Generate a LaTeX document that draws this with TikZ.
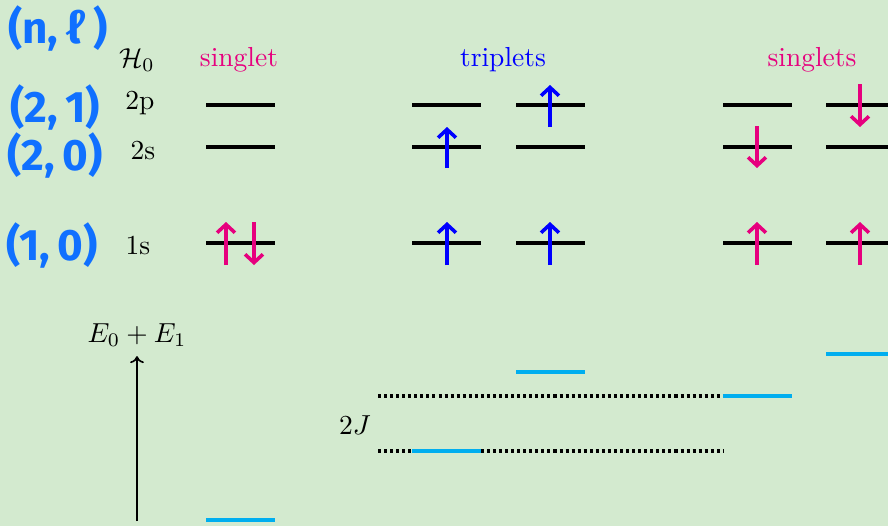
\documentclass[tikz,border=0pt]{standalone}
\usepackage{fontspec}
\newfontfamily\handfont{Fira Sans}
\usepackage{xcolor}
\definecolor{PaperGreen}{HTML}{D3EACF}
\definecolor{SpinPink}{HTML}{E6007E}
\definecolor{SpinBlue}{HTML}{0000FF}
\definecolor{HandBlue}{HTML}{1070FF}
\definecolor{LevelCyan}{HTML}{00AEEF}
\usepackage{tikz}
\usetikzlibrary{arrows.meta,positioning,calc}

\begin{document}
\begin{tikzpicture}[x=0.3636pt,y=-0.3636pt,
  level/.style={line width=1.8pt},
  shifted/.style={draw=LevelCyan,line width=1.8pt},
  spin/.style={line width=1.3pt,-{Straight Barb[length=3pt,width=6.5pt]}},
  guide/.style={line width=1.1pt,dash pattern=on 1.1pt off 1.1pt},
  hand/.style={text=HandBlue,font=\handfont\bfseries\fontsize{16}{19}\selectfont}]
\clip (0,0) rectangle (888,526);
\fill[PaperGreen] (0,0) rectangle (888,526);
% quantum numbers, written by hand
\node[hand] (nl) at (58,28) {(n,\,ℓ\,)};
\node[hand] (q21) at (55,107) {(2,\,1)};
\node[hand] (q20) at (55,155) {(2,\,0)};
\node[hand] (q10) at (52,245) {(1,\,0)};
% headings
\node (ham) at (137,60) {$\mathcal{H}_0$};
\node[text=SpinPink] (sing) at (239,60) {singlet};
\node[text=SpinBlue] (trip) at (503,60) {triplets};
\node[text=SpinPink] (sings) at (812,60) {singlets};
\node (lab2p) at (140,103) {2p};
\node (lab2s) at (143,150) {2s};
\node (lab1s) at (138,245) {1s};
% orbital levels
\foreach \x in {206,412,516,723,826}
  \foreach \y in {105,147,243}
    \draw[level] (\x,\y) -- ++(69,0);
% spins
\draw[spin,SpinPink] (226,265) -- (226,222);
\draw[spin,SpinPink] (254,222) -- (254,265);
\draw[spin,SpinBlue] (447,168) -- (447,127);
\draw[spin,SpinBlue] (447,265) -- (447,222);
\draw[spin,SpinBlue] (550,127) -- (550,85);
\draw[spin,SpinBlue] (550,265) -- (550,222);
\draw[spin,SpinPink] (757,126) -- (757,168);
\draw[spin,SpinPink] (757,265) -- (757,222);
\draw[spin,SpinPink] (860,84) -- (860,127);
\draw[spin,SpinPink] (860,265) -- (860,222);
% energy axis
\node (esum) at (137,335) {$E_0+E_1$};
\coordinate (axisfoot) at (137,521);
\draw[line width=0.6pt,-{To[length=2.5pt,width=5pt]}] (axisfoot) -- (esum);
\node (twoj) at (355,425) {$2J$};
\draw[guide] (378,396) -- (723,396);
\draw[guide] (378,451) -- (723,451);
\draw[shifted] (206,520) -- ++(69,0);
\draw[shifted] (412,451) -- ++(69,0);
\draw[shifted] (516,372) -- ++(69,0);
\draw[shifted] (723,396) -- ++(69,0);
\draw[shifted] (826,354) -- ++(69,0);
\end{tikzpicture}
\end{document}
